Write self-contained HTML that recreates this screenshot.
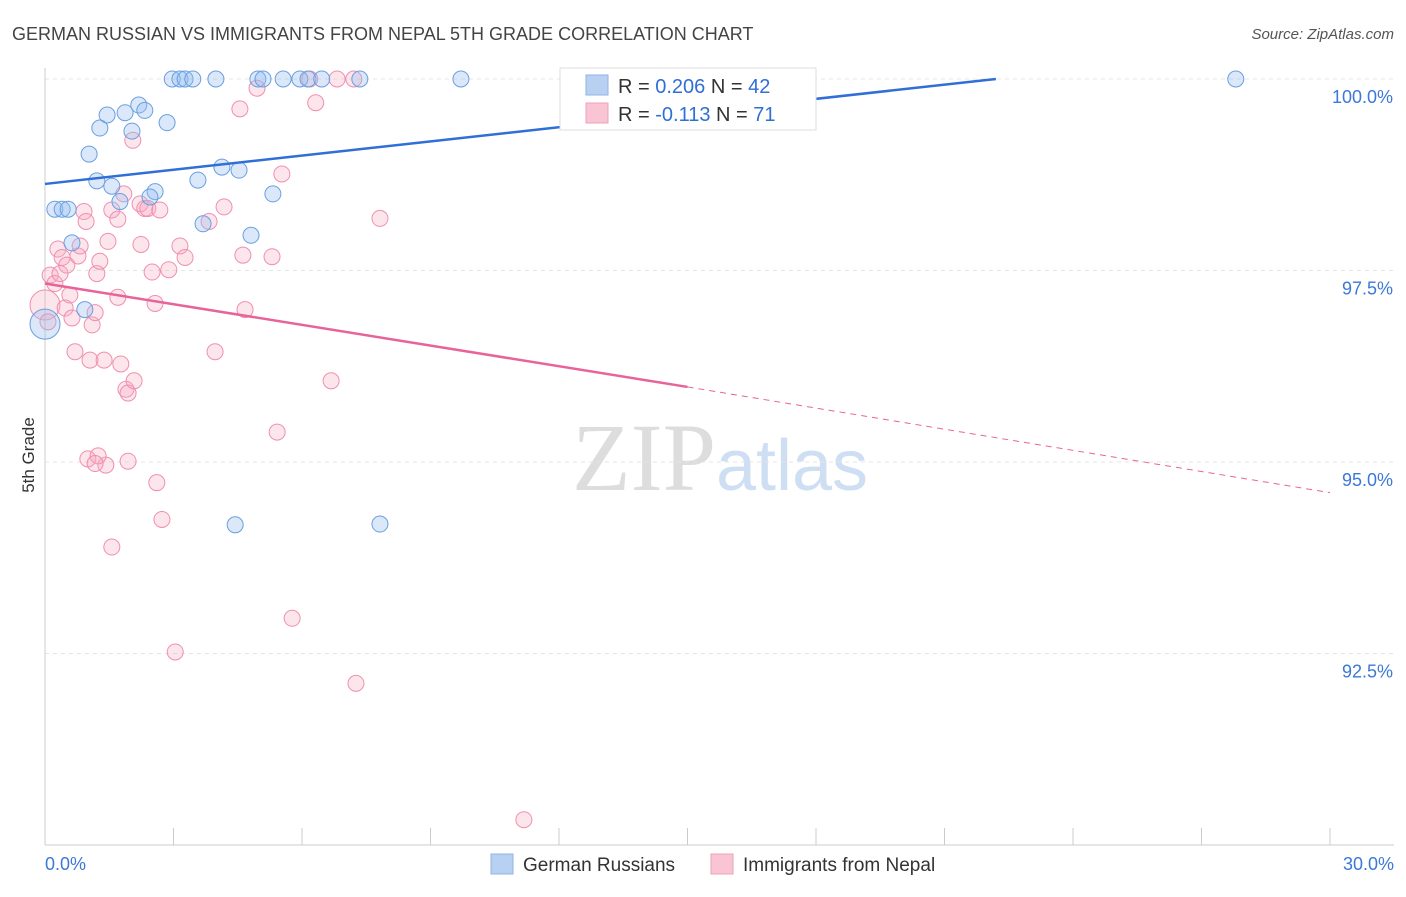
<!DOCTYPE html>
<html><head><meta charset="utf-8"><style>
body{margin:0;background:#fff;font-family:"Liberation Sans",sans-serif}
</style></head><body>
<svg id="chart" width="1406" height="892" xmlns="http://www.w3.org/2000/svg">
<text x="12" y="40" font-size="18" fill="#444">GERMAN RUSSIAN VS IMMIGRANTS FROM NEPAL 5TH GRADE CORRELATION CHART</text>
<text x="1394" y="39" font-size="15" fill="#555" text-anchor="end" font-style="italic">Source: ZipAtlas.com</text>
<text x="720" y="490" font-size="96" text-anchor="middle" font-family="Liberation Serif" fill="#ddd"><tspan>ZIP</tspan><tspan fill="#cfdff3" font-family="Liberation Sans" font-size="72">atlas</tspan></text>
<text transform="translate(34,455) rotate(-90)" font-size="17" fill="#333" text-anchor="middle">5th Grade</text>
<g id="grid"></g><g id="pts"></g><g id="lines"></g>
<g>
<rect x="560" y="68" width="256" height="62" fill="#fff" stroke="#ddd"/>
<rect x="586" y="75" width="22" height="20" fill="#b8d1f3" stroke="#8fb3e6"/>
<rect x="586" y="103" width="22" height="20" fill="#f9c5d5" stroke="#f0a0b8"/>
<text x="618" y="93" font-size="20" fill="#333">R = <tspan fill="#2f6fd6">0.206</tspan>   N = <tspan fill="#2f6fd6">42</tspan></text>
<text x="618" y="121" font-size="20" fill="#333">R = <tspan fill="#2f6fd6">-0.113</tspan>   N = <tspan fill="#2f6fd6"> 71</tspan></text>
</g>
<g>
<rect x="491" y="854" width="22" height="20" fill="#b8d1f3" stroke="#8fb3e6"/>
<text x="523" y="871" font-size="19" fill="#333">German Russians</text>
<rect x="711" y="854" width="22" height="20" fill="#f9c5d5" stroke="#f0a0b8"/>
<text x="743" y="871" font-size="19" fill="#333">Immigrants from Nepal</text>
</g>
</svg>
<script>
const yTicks=[100,97.5,95,92.5];
const yTickLabels=["100.0%","97.5%","95.0%","92.5%"];
const xTickLabels=["0.0%","30.0%"];
const blueX=[0.23,0.40,0.54,0.63,0.93,1.03,1.21,1.28,1.45,1.56,1.75,1.87,2.03,2.19,2.33,2.57,2.85,2.97,3.15,3.27,3.45,3.57,3.69,3.99,4.13,4.53,4.81,4.97,5.09,5.32,5.56,5.95,6.14,6.46,7.35,9.71,12.46,27.80,4.44,7.82,0.0,2.45];
const blueY=[98.30,98.30,98.30,97.86,96.99,99.02,98.67,99.36,99.53,98.60,98.40,99.56,99.32,99.66,99.59,98.53,99.43,100,100,100,100,98.68,98.11,100,98.85,98.81,97.96,100,100,98.50,100,100,100,100,100,100,100,100,94.18,94.19,96.80,98.46];
const pinkX=[0.0,0.12,0.23,0.30,0.35,0.40,0.47,0.51,0.58,0.63,0.70,0.77,0.82,0.91,0.96,1.05,1.10,1.17,1.21,1.28,1.38,1.42,1.47,1.56,1.56,1.70,1.70,1.77,1.84,1.89,1.94,1.94,2.08,2.05,2.22,2.24,2.33,2.40,2.50,2.57,2.61,2.68,2.73,2.89,3.04,3.15,3.27,3.83,3.97,4.18,4.55,4.62,4.67,4.95,5.30,5.42,5.53,5.77,6.18,6.32,6.68,6.82,7.21,7.26,7.82,11.18,1.00,1.24,0.07,1.17];
const pinkY=[97.05,97.44,97.33,97.78,97.46,97.67,97.01,97.57,97.18,96.88,96.44,97.69,97.82,98.27,98.14,96.33,96.79,96.95,97.46,97.62,96.33,94.96,97.88,93.89,98.29,98.17,97.15,96.28,98.50,95.95,95.90,95.01,96.06,99.20,98.37,97.84,98.31,98.31,97.48,97.07,94.73,98.29,94.25,97.51,92.52,97.82,97.67,98.14,96.44,98.33,99.61,97.70,96.99,99.88,97.68,95.39,98.76,92.96,100,99.69,96.06,100,100,92.11,98.18,90.33,95.04,95.08,96.83,94.98];
const blueLine=[0,98.63,22.2,100];
const pinkLine=[0,97.33,15.0,95.98,30,94.60];
const X=v=>45+v/30*1285, Y=v=>79+(100-v)/2.5*191.5;
const NS="http://www.w3.org/2000/svg";
function mk(t,a,p){const e=document.createElementNS(NS,t);for(const k in a)e.setAttribute(k,a[k]);p.appendChild(e);return e;}
const g=document.getElementById('grid'),pts=document.getElementById('pts'),ln=document.getElementById('lines');
yTicks.forEach((t,i)=>{
 const l=mk('line',{x1:45,x2:1394,y1:Y(t),y2:Y(t),stroke:'#e4e4e4','stroke-dasharray':'4,4'},g);
 
 
 const tx=mk('text',{x:1393,y:Y(t)+24,'font-size':18,fill:'#3b78d8','text-anchor':'end'},g);
 tx.textContent=yTickLabels[i];
 
 
});
const ax=mk('line',{x1:45,x2:45,y1:68,y2:845,stroke:'#ccc'},g);


const bx=mk('line',{x1:45,x2:1394,y1:845,y2:845,stroke:'#ccc'},g);


for(let i=1;i<=10;i++){const tk=mk('line',{x1:X(i*3),x2:X(i*3),y1:828,y2:845,stroke:'#ccc'},g);
 
 }
[[0,'start',45],[30,'end',1394]].forEach((d,i)=>{const tx=mk('text',{x:d[2],y:870,'font-size':18,fill:'#3b78d8','text-anchor':d[1]},g);tx.textContent=xTickLabels[i];
 
 });
function dots(xs,ys,fill,stroke,name){xs.forEach((x,i)=>{const r=(x===0)?15:8;const c=mk('circle',{cx:X(x),cy:Y(ys[i]),r:r,fill:fill,stroke:stroke,'stroke-width':1},pts);
 
 });}
dots(pinkX,pinkY,'rgba(247,168,192,0.3)','#f08fb0','nepal-point');
dots(blueX,blueY,'rgba(150,190,240,0.35)','#6a9fe0','german-russian-point');
const b=mk('line',{x1:X(blueLine[0]),y1:Y(blueLine[1]),x2:X(blueLine[2]),y2:Y(blueLine[3]),stroke:'#2f6fd6','stroke-width':2.5},ln);


const p1=mk('line',{x1:X(pinkLine[0]),y1:Y(pinkLine[1]),x2:X(pinkLine[2]),y2:Y(pinkLine[3]),stroke:'#e8639a','stroke-width':2.5},ln);


const p2=mk('line',{x1:X(pinkLine[2]),y1:Y(pinkLine[3]),x2:X(pinkLine[4]),y2:Y(pinkLine[5]),stroke:'#e8639a','stroke-width':1,'stroke-dasharray':'6,5'},ln);


</script>
</body></html>
